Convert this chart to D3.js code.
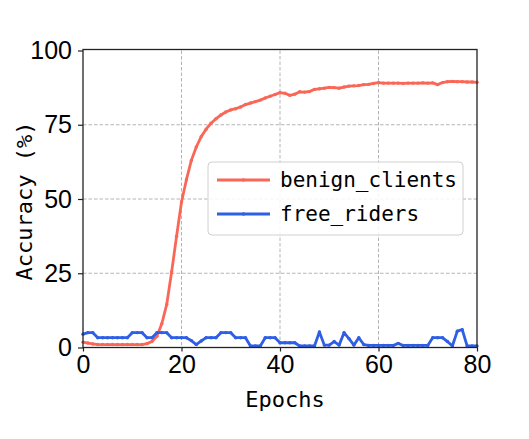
<!DOCTYPE html>
<html><head><meta charset="utf-8">
<script src="https://cdn.jsdelivr.net/npm/d3@7"></script>
<style>body{margin:0;background:#fff}</style>
</head><body><svg id="c" width="529" height="439"></svg>
<script>
const epochs = d3.range(0, 81);
const benignClients = [1.8,1.5,1.2,1.0,1.0,1.0,1.0,1.0,1.0,1.0,1.0,1.0,1.0,1.3,2.0,3.8,8.0,14.5,25.5,37.5,
  49,56.5,63,67.5,71,73.5,75.5,77,78.3,79.3,80,80.4,81,81.8,82.3,82.8,83.3,84,84.6,85.2,
  85.8,85.6,84.9,85.3,86.1,86.0,86.2,86.9,87.1,87.3,87.6,87.5,87.3,87.7,88.0,88.1,88.2,88.5,88.6,88.9,
  89.2,89.0,89.0,89.0,89.0,88.9,89.0,89.0,89.0,89.1,89.0,89.1,88.5,89.2,89.5,89.6,89.5,89.5,89.4,89.4,89.3];
const freeRiders = [4.5,5.0,5.0,3.3,3.3,3.3,3.3,3.3,3.3,3.3,5.0,5.0,5.0,3.3,3.3,5.0,5.0,5.0,3.3,3.3,
  3.3,3.3,2.3,1.0,2.2,3.3,3.3,3.3,5.0,5.0,5.0,3.3,3.3,3.3,0.5,0.5,0.5,3.3,3.3,3.3,
  1.6,1.6,1.6,1.6,0.5,0.5,0.5,0.5,5.2,0.8,0.8,2.0,0.8,5.0,3.0,0.8,3.3,1.0,0.7,0.7,
  0.7,0.7,0.7,0.7,1.4,0.7,0.7,0.7,0.7,0.7,0.7,3.3,3.3,3.3,2.0,0.5,5.5,6.0,0.5,0.5,0.5];
const xTicks = [0,20,40,60,80];
const yTicks = [0,25,50,75,100];
const seriesNames = ["benign_clients","free_riders"];
const seriesColors = ["#fa6757","#2f5fe4"];
const xLabel = "Epochs";
const yLabel = "Accuracy (%)";

const svg = d3.select("#c");
const L = 83, R = 477, T = 50.5, B = 347.5;
const x = d3.scaleLinear().domain([0,80]).range([L,R]);
const y = d3.scaleLinear().domain([0,100]).range([B,T]);

// grid
const g = svg.append("g");
g.selectAll(".gx").data(xTicks.slice(1,-1)).enter().append("line")
  .attr("x1",d=>x(d)).attr("x2",d=>x(d)).attr("y1",T).attr("y2",B)
  .attr("stroke","#b4b4b4").attr("stroke-width",1).attr("stroke-dasharray","3.5,2");
g.selectAll(".gy").data(yTicks.slice(1,-1)).enter().append("line")
  .attr("y1",d=>y(d)).attr("y2",d=>y(d)).attr("x1",L).attr("x2",R)
  .attr("stroke","#b4b4b4").attr("stroke-width",1).attr("stroke-dasharray","3.5,2");

// lines
const series = [benignClients, freeRiders];
const line = d3.line().x((d,i)=>x(epochs[i])).y(d=>y(d));
series.forEach((s,k)=>{
  svg.append("path").datum(s).attr("d",line).attr("fill","none")
    .attr("stroke",seriesColors[k]).attr("stroke-width",2.8).attr("stroke-linejoin","round");
  svg.append("g").selectAll("circle").data(s).enter().append("circle")
    .attr("cx",(d,i)=>x(epochs[i])).attr("cy",d=>y(d)).attr("r",1.7).attr("fill",seriesColors[k]);
});

// axes
const ax = svg.append("g").attr("transform",`translate(0,${B})`)
  .call(d3.axisBottom(x).tickValues(xTicks).tickSize(4).tickPadding(4));
const ay = svg.append("g").attr("transform",`translate(${L},0)`)
  .call(d3.axisLeft(y).tickValues(yTicks).tickSize(5).tickPadding(6));
[ax,ay].forEach(a=>{
  a.select(".domain").remove();
  a.selectAll(".tick line").attr("stroke","#222").attr("stroke-width",1.2);
  a.selectAll("text").attr("font-family","'Liberation Sans',Arial,sans-serif").attr("font-size",25).attr("fill","#000");
});
// frame
svg.append("rect").attr("x",L).attr("y",T-1).attr("width",R-L).attr("height",B-T+1)
  .attr("fill","none").attr("stroke","#222").attr("stroke-width",1.3);

// labels
const mono = "'DejaVu Sans Mono','Liberation Mono',monospace";
svg.append("text").attr("x",285).attr("y",407).attr("text-anchor","middle")
  .attr("font-family",mono).attr("font-size",22).text(xLabel);
svg.append("text").attr("transform","translate(32,201) rotate(-90)").attr("text-anchor","middle")
  .attr("font-family",mono).attr("font-size",22).text(yLabel);

// legend
const lg = svg.append("g");
lg.append("rect").attr("x",208).attr("y",162).attr("width",255).attr("height",73).attr("rx",4)
  .attr("fill","#fff").attr("fill-opacity",0.85).attr("stroke","#d0d0d0").attr("stroke-width",1);
const rowsY = [180, 214];
seriesNames.forEach((n,k)=>{
  lg.append("line").attr("x1",217).attr("x2",270).attr("y1",rowsY[k]).attr("y2",rowsY[k])
    .attr("stroke",seriesColors[k]).attr("stroke-width",2.8);
  lg.append("circle").attr("cx",243.5).attr("cy",rowsY[k]).attr("r",1.7).attr("fill",seriesColors[k]);
  lg.append("text").attr("x",280).attr("y",rowsY[k]+7).attr("font-family",mono)
    .attr("font-size",21).attr("fill","#000").text(n);
});
</script></body></html>
